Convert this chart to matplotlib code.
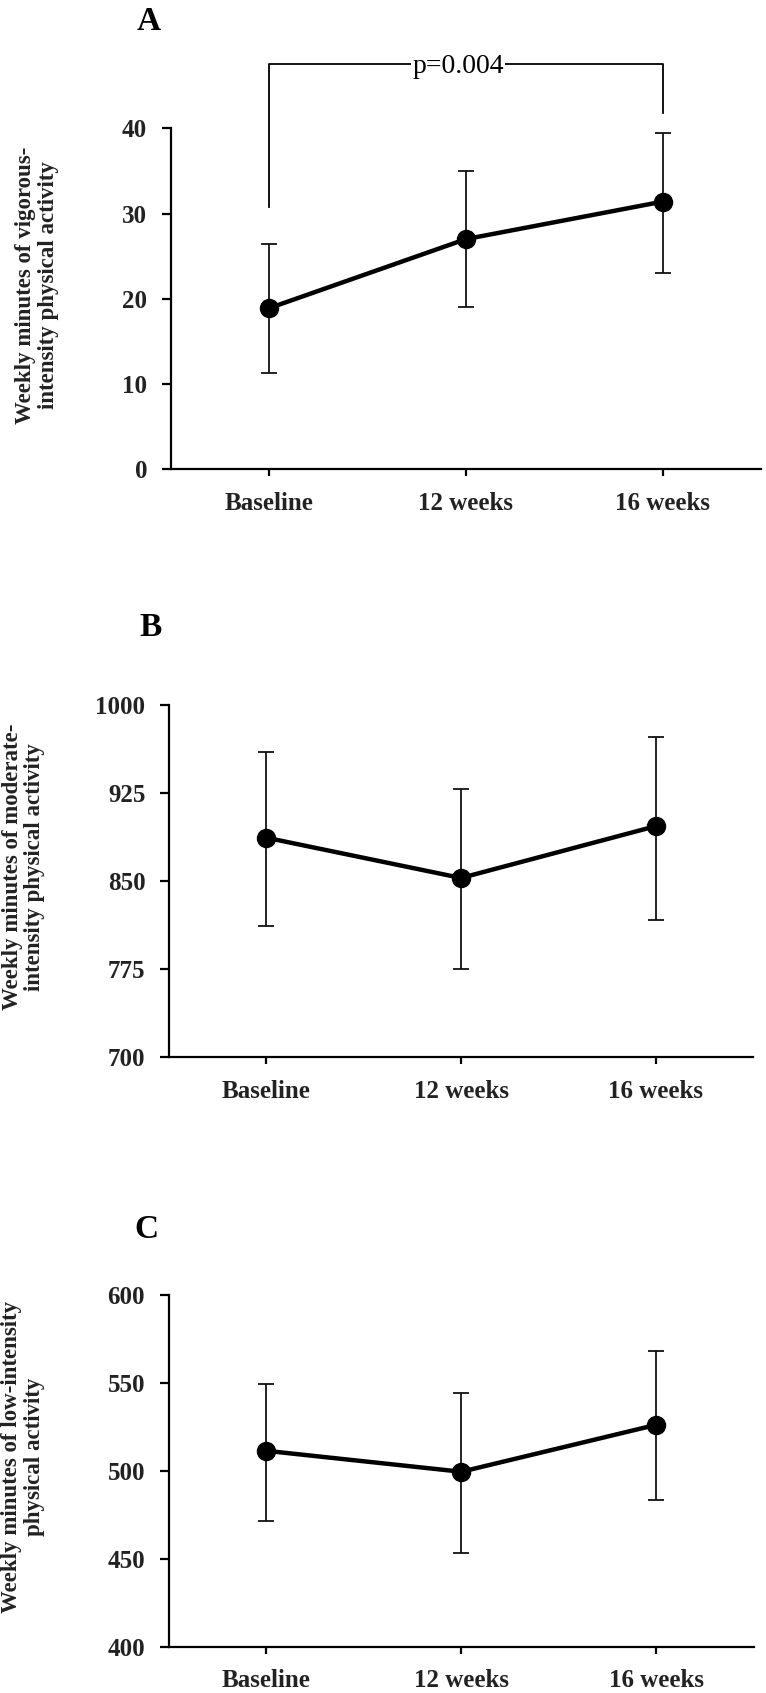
import matplotlib
matplotlib.use("Agg")
import matplotlib.pyplot as plt

plt.rcParams['font.family'] = ['Liberation Serif', 'DejaVu Serif']

categories = ["Baseline", "12 weeks", "16 weeks"]

# Panel A: vigorous
vig_mean = [18.9, 27.0, 31.4]
vig_low = [11.3, 19.0, 23.0]
vig_high = [26.4, 35.0, 39.5]

# Panel B: moderate
mod_mean = [887.0, 852.7, 896.8]
mod_low = [811.5, 774.8, 816.6]
mod_high = [960.2, 928.6, 972.7]

# Panel C: low
low_mean = [511.3, 499.4, 526.1]
low_low = [471.7, 453.0, 483.6]
low_high = [549.0, 544.1, 568.0]

yticksA = [0, 10, 20, 30, 40]
yticksB = [700, 775, 850, 925, 1000]
yticksC = [400, 450, 500, 550, 600]

ylabelA = "Weekly minutes of vigorous-\nintensity physical activity"
ylabelB = "Weekly minutes of moderate-\nintensity physical activity"
ylabelC = "Weekly minutes of low-intensity\nphysical activity"

bracket_y = [30.8, 47.5, 47.5, 41.8]
p_text = "p=0.004"

W, H = 766, 1693
fig = plt.figure(figsize=(W / 100, H / 100), dpi=100)


def make_ax(left, right, top, bottom):
    return fig.add_axes([left / W, 1 - bottom / H, (right - left) / W, (bottom - top) / H])


panels = [
    (make_ax(170.7, 761, 128.3, 469.3), vig_mean, vig_low, vig_high, yticksA, ylabelA, "A", (149, 22), -0.19),
    (make_ax(169, 753, 705, 1057.3), mod_mean, mod_low, mod_high, yticksB, ylabelB, "B", (151, 627), -0.212),
    (make_ax(168.7, 754, 1294.7, 1646.7), low_mean, low_low, low_high, yticksC, ylabelC, "C", (146, 1229), -0.212),
]

x = list(range(len(categories)))
for ax, mean, lo, hi, yt, yl, letter, lpos, lx in panels:
    yerr = [[m - l for m, l in zip(mean, lo)], [h - m for m, h in zip(mean, hi)]]
    ax.errorbar(x, mean, yerr=yerr, fmt='none', ecolor='#111111', elinewidth=1.3,
                capsize=5.5, capthick=1.3, zorder=2)
    ax.plot(x, mean, color='black', lw=3.2, marker='o', markersize=13, zorder=3)
    ax.set_xlim(-0.5, 2.5)
    ax.set_ylim(yt[0], yt[-1])
    ax.set_yticks(yt)
    ax.set_xticks(x)
    ax.set_xticklabels(categories)
    for s in ['top', 'right']:
        ax.spines[s].set_visible(False)
    for s in ['left', 'bottom']:
        ax.spines[s].set_linewidth(1.6)
    ax.tick_params(axis='y', length=6.5, width=1.6, pad=10.5, labelsize=18, labelcolor='#222222')
    ax.tick_params(axis='x', length=5, width=1.6, pad=11, labelsize=18, labelcolor='#222222')
    for lab in ax.get_xticklabels() + ax.get_yticklabels():
        lab.set_fontweight('bold')
    ax.set_ylabel(yl, fontsize=16.5, fontweight='bold', color='#222222', linespacing=1.1)
    ax.yaxis.set_label_coords(lx, 0.54)
    fig.text(lpos[0] / W, 1 - lpos[1] / H, letter, fontsize=24, fontweight='bold',
             ha='center', va='center')

axA = panels[0][0]
axA.plot([0, 0, 2, 2], bracket_y, color='black', lw=1.3, clip_on=False, zorder=4)
axA.text(0.96, 47.3, p_text, fontsize=20, ha='center', va='center', zorder=5,
         bbox=dict(facecolor='white', edgecolor='none', pad=1.0), clip_on=False)

fig.savefig("out.png", dpi=100, facecolor='white')
